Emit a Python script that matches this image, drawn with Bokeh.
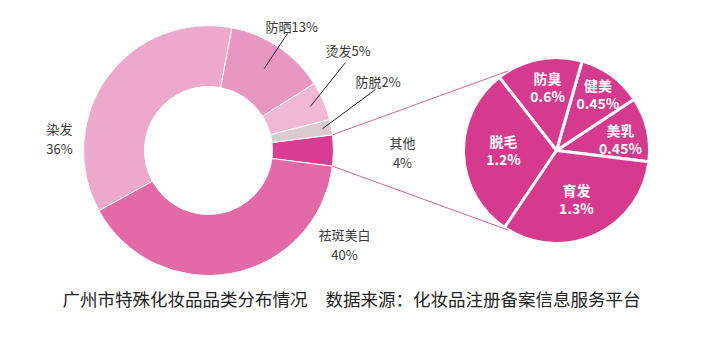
import numpy as np
from bokeh.plotting import figure
from bokeh.models import Range1d, ColumnDataSource
from bokeh.core.properties import value
from bokeh.embed import file_html
from bokeh.resources import INLINE

# ---- data ----
donut_cats = ["其他", "防脱", "烫发", "防晒", "染发", "祛斑美白"]
donut_vals = [4, 2, 5, 13, 36, 40]
donut_colors = ["#D93C92", "#D9CBCF", "#F0B8D5", "#E897C2", "#ECA9CC", "#E26AA6"]

pie_cats = ["美乳", "健美", "防臭", "脱毛", "育发"]
pie_vals = [0.45, 0.45, 0.6, 1.2, 1.3]
pie_color = "#D63A8E"

title_left = "广州市特殊化妆品品类分布情况"
title_right = "数据来源：化妆品注册备案信息服务平台"

W, H = 702, 344
FONT = "Noto Sans CJK SC"

def X(xi):
    return xi

def Y(yi):
    return H - yi

p = figure(width=W, height=H, output_backend="svg", toolbar_location=None,
           x_range=Range1d(0, W), y_range=Range1d(0, H), min_border=0,
           outline_line_color=None)
p.axis.visible = False
p.grid.visible = False
p.background_fill_color = "white"

# ---- donut ----
cx, cy = X(208), Y(150)
R_out, R_in = 125, 64
dv = np.array(donut_vals, dtype=float)
dang = dv / dv.sum() * 2 * np.pi
start0 = -dang[0] / 2
d_end = start0 + np.cumsum(dang)
d_start = d_end - dang
src = ColumnDataSource(dict(start=d_start, end=d_end, color=donut_colors))
p.annular_wedge(x=cx, y=cy, inner_radius=R_in, outer_radius=R_out,
                start_angle="start", end_angle="end", fill_color="color",
                line_color="white", line_width=1, source=src)

# ---- pie ----
px, py = X(556), Y(150)
R_p = 93
pv = np.array(pie_vals, dtype=float)
pang = pv / pv.sum() * 2 * np.pi
pstart0 = np.deg2rad(-7)
p_end = pstart0 + np.cumsum(pang)
p_start = p_end - pang
psrc = ColumnDataSource(dict(start=p_start, end=p_end))
p.wedge(x=px, y=py, radius=R_p, start_angle="start", end_angle="end",
        fill_color=pie_color, line_color="white", line_width=3, source=psrc)

# ---- connector lines ----
a_top, a_bot = d_end[0], d_start[0]
t_ang = np.deg2rad(121)
p.segment(x0=[cx + R_out * np.cos(a_top), cx + R_out * np.cos(a_bot)],
          y0=[cy + R_out * np.sin(a_top), cy + R_out * np.sin(a_bot)],
          x1=[px + R_p * np.cos(t_ang), px + R_p * np.cos(-t_ang)],
          y1=[py + R_p * np.sin(t_ang), py + R_p * np.sin(-t_ang)],
          line_color="#C8669C", line_width=1)

# ---- donut labels ----
pct = [f"{v}%" for v in donut_vals]
mid = (d_start + d_end) / 2
# leader-line labels (防脱, 烫发, 防晒)
lead_idx = [1, 2, 3]
lead_r = [116, 111, 99]
lead_end = [(375, 89), (345, 62), (287, 33)]
lead_text_pos = [(355, 81), (325, 50), (265, 26)]
for i, r0, (ex, ey), (tx, ty) in zip(lead_idx, lead_r, lead_end, lead_text_pos):
    p.segment(x0=[cx + r0 * np.cos(mid[i])], y0=[cy + r0 * np.sin(mid[i])],
              x1=[X(ex)], y1=[Y(ey)], line_color="#222222", line_width=1)
    p.text(x=[X(tx)], y=[Y(ty)], text=[donut_cats[i] + pct[i]],
           text_font=value(FONT), text_font_size="13px", text_color="#3a3a3a",
           text_align="left", text_baseline="middle")

# two-line labels (其他, 染发, 祛斑美白)
two_idx = [0, 4, 5]
two_pos = [(402, 142), (59, 128), (344, 234)]
for i, (tx, ty) in zip(two_idx, two_pos):
    p.text(x=[X(tx), X(tx)], y=[Y(ty), Y(ty + 20)], text=[donut_cats[i], pct[i]],
           text_font=value(FONT), text_font_size="13px", text_color="#3a3a3a",
           text_align="center", text_baseline="middle")

# ---- pie labels ----
pmid = (p_start + p_end) / 2
lab_r = [65, 70, 64, 53, 52]
ang_adj = np.deg2rad([-3, 0, -3, -3, -2])
lx = px + np.array(lab_r) * np.cos(pmid + ang_adj)
ly = py + np.array(lab_r) * np.sin(pmid + ang_adj)
p.text(x=lx, y=ly + 9, text=pie_cats, text_font=value(FONT),
       text_font_size="14px", text_font_style="bold", text_color="white",
       text_align="center", text_baseline="middle")
p.text(x=lx, y=ly - 9, text=[f"{v}%" for v in pie_vals], text_font=value(FONT),
       text_font_size="14px", text_font_style="bold", text_color="white",
       text_align="center", text_baseline="middle")

# ---- caption ----
p.text(x=[X(62), X(325)], y=[Y(298), Y(298)], text=[title_left, title_right],
       text_font=value(FONT), text_font_size="17.5px", text_color="#222222",
       text_align="left", text_baseline="middle")

open("out.html", "w").write(file_html(p, INLINE))
